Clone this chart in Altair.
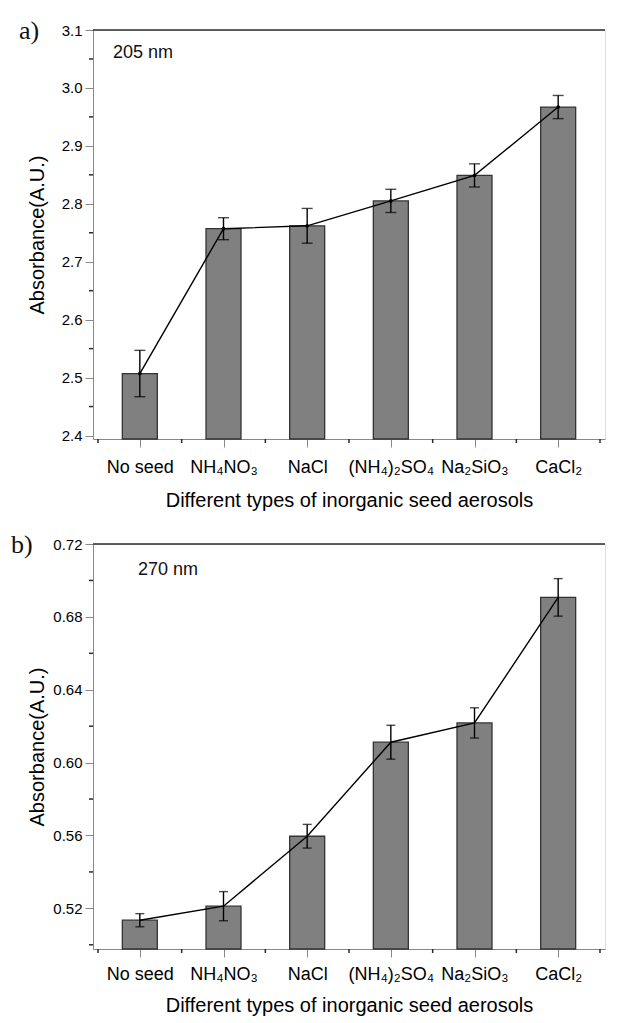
import json
import altair as alt
import pandas as pd

# ---------------- data ----------------
categories = ["No seed", "NH₄NO₃", "NaCl", "(NH₄)₂SO₄", "Na₂SiO₃", "CaCl₂"]

a_values = [2.507, 2.757, 2.762, 2.805, 2.849, 2.967]
a_errors = [0.040, 0.019, 0.030, 0.020, 0.020, 0.020]
b_values = [0.5135, 0.5212, 0.5596, 0.6112, 0.6218, 0.6907]
b_errors = [0.0036, 0.0080, 0.0065, 0.0093, 0.0083, 0.0103]

a_domain = [2.394, 3.1]
a_major = [2.4, 2.5, 2.6, 2.7, 2.8, 2.9, 3.0, 3.1]
a_minor = [2.45, 2.55, 2.65, 2.75, 2.85, 2.95, 3.05]
b_domain = [0.4977, 0.72]
b_major = [0.52, 0.56, 0.60, 0.64, 0.68, 0.72]
b_minor = [0.50, 0.54, 0.58, 0.62, 0.66, 0.70]
x_major = [0, 1, 2, 3, 4, 5]
x_minor = [-0.5, 0.5, 1.5, 2.5, 3.5, 4.5, 5.5]

x_title = "Different types of inorganic seed aerosols"
y_title = "Absorbance(A.U.)"
a_note, b_note = "205 nm", "270  nm"
a_tag, b_tag = "a)", "b)"

FONT = "Liberation Sans"
AXC = "#2b2b2b"
W = 512


def panel(values, errors, domain, major, minor, fmt, note, note_xy, tag, tag_xy,
          height, cap, lab_pad, title_pad, dots):
    df = pd.DataFrame({
        "idx": list(range(len(categories))),
        "cat": categories,
        "v": values,
        "lo": [v - e for v, e in zip(values, errors)],
        "hi": [v + e for v, e in zip(values, errors)],
    })
    cats_js = json.dumps(categories, ensure_ascii=False)
    xscale = alt.Scale(domain=[-0.5, 5.5], nice=False, zero=False)
    yscale = alt.Scale(domain=domain, nice=False, zero=False)
    x_enc = alt.X(
        "idx:Q", scale=xscale,
        axis=alt.Axis(
            values=x_major,
            labelExpr=f"{cats_js}[datum.value]",
            tickSize=8, labelOverlap=False,
            title=x_title, titlePadding=title_pad, labelPadding=lab_pad,
            labelFontSize=18, titleFontSize=20, titleFontWeight="normal", grid=False,
        ),
    )
    y_enc = alt.Y(
        "v:Q", scale=yscale,
        axis=alt.Axis(
            values=major, format=fmt, labelOverlap=False,
            tickSize=8, title=y_title, titleX=-46, labelPadding=3,
            labelFontSize=15, titleFontSize=20, titleFontWeight="normal", grid=False,
        ),
    )
    base = alt.Chart(df)
    bars = base.mark_bar(size=35, color="#808080", stroke="#333333", strokeWidth=1.3).encode(
        x=x_enc, y=y_enc, y2=alt.datum(domain[0])
    )
    err = base.mark_rule(color="black", strokeWidth=1.4).encode(
        x="idx:Q", y=alt.Y("lo:Q", scale=yscale), y2="hi:Q"
    )
    cap_lo = base.mark_tick(color="black", thickness=1.4, size=cap, orient="horizontal").encode(
        x="idx:Q", y=alt.Y("lo:Q", scale=yscale)
    )
    cap_hi = base.mark_tick(color="black", thickness=1.4, size=cap, orient="horizontal").encode(
        x="idx:Q", y=alt.Y("hi:Q", scale=yscale)
    )
    line = base.mark_line(color="black", strokeWidth=1.4).encode(
        x="idx:Q", y=alt.Y("v:Q", scale=yscale)
    )
    layers = [bars, err, cap_lo, cap_hi, line]
    if dots:
        layers.append(base.mark_circle(size=14, color="black", opacity=1).encode(
            x="idx:Q", y=alt.Y("v:Q", scale=yscale)))

    # minor ticks drawn through the scales
    y_minor = alt.Chart(pd.DataFrame({"m": minor})).mark_rule(color=AXC, strokeWidth=1.5).encode(
        y=alt.Y("m:Q", scale=yscale), x=alt.value(-4), x2=alt.value(0)
    )
    x_minor_r = alt.Chart(pd.DataFrame({"m": x_minor})).mark_rule(color=AXC, strokeWidth=1.5).encode(
        x=alt.X("m:Q", scale=xscale), y=alt.value(height), y2=alt.value(height + 4)
    )
    one = alt.Chart(pd.DataFrame({"k": [0]}))
    top_rule = one.mark_rule(color=AXC, strokeWidth=1.5).encode(
        x=alt.value(0), x2=alt.value(W), y=alt.value(0)
    )
    note_t = one.mark_text(align="left", baseline="middle", font=FONT, fontSize=18,
                           color="#111111").encode(
        x=alt.value(note_xy[0]), y=alt.value(note_xy[1]), text=alt.value(note)
    )
    tag_t = one.mark_text(align="left", baseline="middle", font="Liberation Serif",
                          fontSize=26, color="#111111").encode(
        x=alt.value(tag_xy[0]), y=alt.value(tag_xy[1]), text=alt.value(tag)
    )
    layers += [y_minor, x_minor_r, top_rule, note_t, tag_t]
    return alt.layer(*layers).properties(width=W, height=height)


top = panel(
    a_values, a_errors, a_domain, a_major, a_minor, ".1f",
    a_note, (20, 23), a_tag, (-74, 1), 409, 11, 11, 14, True,
)
bottom = panel(
    b_values, b_errors, b_domain, b_major, b_minor, ".2f",
    b_note, (45, 26), b_tag, (-82, 1), 405, 9, 8, 12, False,
)

chart = alt.vconcat(top, bottom, spacing=20).properties(
    padding={"left": 2, "top": 9, "right": 0, "bottom": 0}
).configure_view(stroke=None).configure_axis(
    domainColor=AXC, domainWidth=1.5, tickColor=AXC, tickWidth=1.5,
    labelFont=FONT, titleFont=FONT, labelColor="#111111", titleColor="#111111",
    titleFontWeight="normal",
).configure(background="white")

chart.save("out.html", embed_options={"renderer": "svg", "actions": False})
